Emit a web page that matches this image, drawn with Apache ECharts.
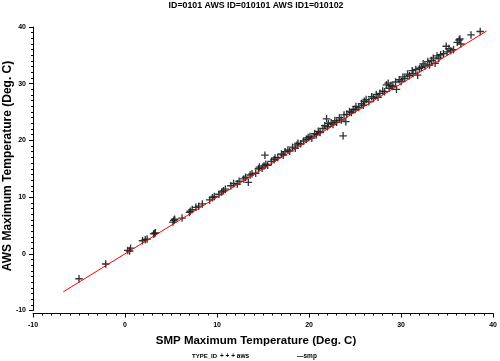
<!DOCTYPE html>
<html><head><meta charset="utf-8">
<script src="https://cdn.jsdelivr.net/npm/echarts@6/dist/echarts.min.js"></script>
<style>html,body{margin:0;padding:0;background:#fff}#c{width:500px;height:361px}</style>
</head><body><div id="c"></div>
<script>
const titleText = 'ID=0101 AWS ID=010101 AWS ID1=010102';
const xTitle = 'SMP Maximum Temperature (Deg. C)';
const yTitle = 'AWS Maximum Temperature (Deg. C)';
const xTicks = [-10, 0, 10, 20, 30, 40];
const yTicks = [-10, 0, 10, 20, 30, 40];
const awsX = [-5.0,-2.1,0.3,0.6,0.5,1.9,2.2,2.4,3.1,3.3,3.2,5.2,5.3,5.4,6.2,7.0,7.1,7.3,7.7,8.0,8.4,9.2,9.5,9.7,
 10.2,10.5,10.7,10.9,11.5,11.8,12.2,12.4,12.9,13.1,13.4,13.6,13.8,14.2,14.5,14.6,14.9,
 15.1,15.2,15.3,15.5,15.9,16.2,16.3,16.6,17.0,17.2,17.4,17.7,17.9,18.2,18.5,18.7,18.8,19.1,
 19.4,19.7,19.9,20.1,20.3,20.6,20.8,21.0,21.2,21.5,21.7,21.9,22.0,22.1,22.4,
 22.6,22.8,23.0,23.3,23.5,23.7,23.8,24.0,24.1,24.4,24.6,24.8,25.0,25.1,25.4,
 25.7,25.9,26.0,26.2,26.5,26.8,27.0,27.3,27.5,27.7,28.0,28.2,28.4,28.6,28.7,
 28.9,29.1,29.4,29.5,29.8,30.0,30.2,30.4,30.7,30.9,31.2,31.3,31.6,31.8,32.0,
 32.2,32.4,32.6,32.9,33.1,33.3,33.5,33.7,33.9,34.1,34.3,34.6,34.9,35.0,35.2,
 35.4,35.7,36.1,36.3,36.5,36.4,37.6,38.6];
const awsY = [-4.4,-1.8,0.6,1.0,0.5,2.3,2.5,2.6,3.5,3.7,3.6,5.6,5.9,6.1,6.3,7.3,7.5,7.8,8.2,8.4,8.8,9.5,9.9,10.1,
 10.5,10.9,11.1,11.4,12.0,12.4,12.3,12.8,13.2,13.5,12.6,13.9,14.1,14.2,15.0,15.3,15.1,
 15.5,17.4,15.8,15.6,16.3,16.6,16.9,17.0,17.6,17.4,18.0,18.3,18.1,18.8,18.6,19.2,19.5,19.4,
 19.9,20.2,20.5,20.7,20.4,21.2,21.0,21.6,21.4,22.1,22.6,23.8,22.4,23.0,23.1,
 22.8,23.5,23.2,24.0,23.6,20.8,24.5,23.3,24.6,25.1,24.9,25.4,25.5,26.0,25.8,
 26.5,26.2,26.9,27.2,26.8,27.7,27.4,28.1,27.6,28.3,28.7,28.6,29.8,30.1,29.2,
 29.7,29.5,30.3,29.0,30.7,30.4,31.2,30.9,31.7,31.4,32.3,31.8,32.5,31.5,32.7,
 32.9,33.5,33.1,33.9,33.3,34.1,34.5,33.6,34.9,34.5,35.1,35.3,36.6,35.6,36.2,
 35.8,36.0,37.3,37.7,37.0,37.9,38.6,39.2];
const smpX = [-6.7, 39.3];
const smpY = [-6.7, 39.3];

const chart = echarts.init(document.getElementById('c'), null, {renderer:'canvas'});
const F = '"Liberation Sans", Arial, sans-serif';
const lbl = {fontFamily:F, fontWeight:'bold', fontSize:7, color:'#000'};
chart.setOption({
  animation:false,
  backgroundColor:'#fff',
  grid:{left:33, right:4, top:27, bottom:50.5, containLabel:false},
  xAxis:{type:'value', min:xTicks[0], max:xTicks[xTicks.length-1], interval:10, offset:3,
    axisLine:{show:true, onZero:false, lineStyle:{color:'#000', width:1}},
    axisTick:{show:true, inside:false, length:4, lineStyle:{color:'#000'}},
    minorTick:{show:true, splitNumber:10, length:2, lineStyle:{color:'#000'}},
    splitLine:{show:false},
    axisLabel:Object.assign({margin:8}, lbl)},
  yAxis:{type:'value', min:yTicks[0], max:yTicks[yTicks.length-1], interval:10,
    axisLine:{show:true, onZero:false, lineStyle:{color:'#000', width:1}},
    axisTick:{show:true, inside:false, length:4, lineStyle:{color:'#000'}},
    minorTick:{show:true, splitNumber:10, length:2, lineStyle:{color:'#000'}},
    splitLine:{show:false},
    axisLabel:Object.assign({margin:7}, lbl)},
  series:[
    {name:'smp', type:'line', data:smpX.map((x,i)=>[x,smpY[i]]), showSymbol:false, symbol:'none',
      lineStyle:{color:'#ff0000', width:1}, z:3},
    {name:'aws', type:'scatter', data:awsX.map((x,i)=>[x,awsY[i]]),
      symbol:'path://M3,0H4.3V3H7.3V4.3H4.3V7.3H3V4.3H0V3H3Z', symbolSize:7.5,
      itemStyle:{color:'#182020', opacity:0.9}, z:2}
  ],
  graphic:[
    {type:'text', x:256, y:6, style:{text:titleText, font:'bold 8.8px '+F, fill:'#000', textAlign:'center', textVerticalAlign:'middle'}},
    {type:'text', x:256, y:341, style:{text:xTitle, font:'bold 11.5px '+F, fill:'#000', textAlign:'center', textVerticalAlign:'middle'}},
    {type:'text', x:8, y:166, rotation:Math.PI/2, style:{text:yTitle, font:'bold 12px '+F, fill:'#000', textAlign:'center', textVerticalAlign:'middle'}},
    {type:'text', x:192, y:356, style:{text:'TYPE_ID', font:'bold 6px '+F, fill:'#000', textVerticalAlign:'middle'}},
    {type:'text', x:220, y:356, style:{text:'+ + + aws', font:'bold 6.5px '+F, fill:'#000', textVerticalAlign:'middle'}},
    {type:'text', x:297, y:356, style:{text:'\u2014smp', font:'bold 6.5px '+F, fill:'#000', textVerticalAlign:'middle'}}
  ]
});
</script></body></html>
